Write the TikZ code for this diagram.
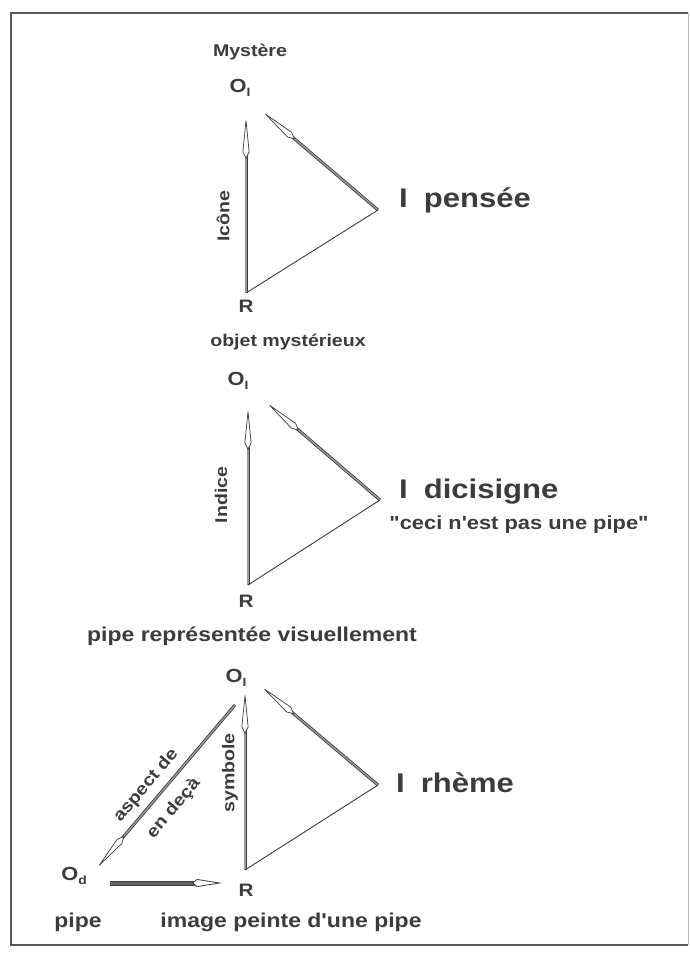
\documentclass[tikz,border=0pt]{standalone}
\usepackage{fontspec}
\setmainfont{Liberation Sans}[FakeStretch=1.15, Ligatures=TeXOff]
\usetikzlibrary{arrows.meta}
\definecolor{ink}{HTML}{3C3C3C}
\definecolor{shade}{HTML}{9A9A9A}
\definecolor{framec}{HTML}{5A5A5A}

\newcommand{\sub}[1]{\raisebox{-0.35ex}{\fontsize{12}{12}\selectfont #1}}

\tikzset{
  x=1pt, y=-1pt,
  lbl/.style={font=\bfseries\fontsize{#1}{#1}\selectfont, text=ink, inner sep=0pt},
  lbl/.default=15,
  big/.style={font=\bfseries\fontsize{27}{27}\selectfont, text=ink, inner sep=0pt, anchor=west},
  relarrow/.style={draw=ink, line width=0.8pt, double=shade, double distance=1.4pt,
    -{Kite[length=42pt, width=7pt, inset=7pt, fill=white, line width=0.7pt]}},
  heavyarrow/.style={draw=ink, line width=1pt, double=gray!80!black, double distance=3pt,
    -{Kite[length=30pt, width=8pt, inset=5pt, fill=white, line width=0.8pt]}},
  plainline/.style={draw=ink, line width=0.9pt}
}

\begin{document}
\begin{tikzpicture}
\useasboundingbox (0,0) rectangle (690,959);

% frame
\draw[framec, line width=1.4pt] (688,13) -- (11,13) -- (11,945) -- (688,945);
\draw[framec!40, line width=0.8pt] (688,13) -- (688,945);

% ---------- top triangle: pensée ----------
\node[lbl=17] (mys) at (250,52) {Mystère};
\node[lbl=19] (oi1) at (240,88) {O\sub{I}};
\node[lbl=18] (r1) at (246,306) {R};
\coordinate (a1) at (246,117);
\coordinate (b1) at (246,293);
\coordinate (c1) at (378,210);
\coordinate (d1) at (263,112);
\draw[relarrow] (b1) -- (a1);
\draw[relarrow] (c1) -- (d1);
\draw[plainline] (b1) -- (c1);
\node[lbl=17, rotate=90] (ico) at (223,216) {Icône};
\node[big] (i1) at (399,200) {I\hspace{16pt}pensée};

% ---------- middle triangle: dicisigne ----------
\node[lbl=17] (obj) at (288,342) {objet mystérieux};
\node[lbl=19] (oi2) at (238,381) {O\sub{I}};
\node[lbl=18] (r2) at (246,601) {R};
\coordinate (a2) at (248,408);
\coordinate (b2) at (248,585);
\coordinate (c2) at (380,500);
\coordinate (d2) at (267,403);
\draw[relarrow] (b2) -- (a2);
\draw[relarrow] (c2) -- (d2);
\draw[plainline] (b2) -- (c2);
\node[lbl=17, rotate=90] (ind) at (221,495) {Indice};
\node[big] (i2) at (399,492) {I\hspace{16pt}dicisigne};
\node[lbl=19] (ceci) at (519,525) {"ceci n'est pas une pipe"};

% ---------- bottom triangle: rhème ----------
\node[lbl=20] (rep) at (252,636) {pipe représentée visuellement};
\node[lbl=19] (oi3) at (236,678) {O\sub{I}};
\node[lbl=18] (r3) at (246,890) {R};
\node[lbl=19] (od) at (74,876) {O\sub{d}};
\coordinate (a3) at (245,692);
\coordinate (b3) at (245,870);
\coordinate (c3) at (378,785);
\coordinate (d3) at (262,687);
\coordinate (e3) at (235,705);
\coordinate (f3) at (97,868);
\coordinate (g3) at (110,883);
\coordinate (h3) at (222,883);
\draw[relarrow] (b3) -- (a3);
\draw[relarrow] (c3) -- (d3);
\draw[plainline] (b3) -- (c3);
\draw[relarrow] (e3) -- (f3);
\draw[heavyarrow] (g3) -- (h3);
\node[lbl=17, rotate=90] (sym) at (230,773) {symbole};
% the two words sit on either side of the O_d -- O_I line
\node[font=\bfseries\fontsize{17}{36}\selectfont, text=ink, inner sep=0pt,
      align=center, rotate=50] (asp) at (160,797) {aspect de\\en deçà};
\node[big] (i3) at (396,783) {I\hspace{16pt}rhème};
\node[lbl=20] (pipe) at (78,922) {pipe};
\node[lbl=20] (img) at (291,922) {image peinte d'une pipe};
\end{tikzpicture}
\end{document}
